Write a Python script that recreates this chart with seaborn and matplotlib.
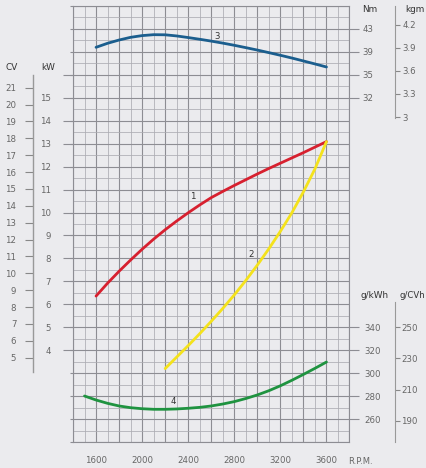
import numpy as np
import matplotlib
matplotlib.use('Agg')
import matplotlib.pyplot as plt
from matplotlib.ticker import MultipleLocator, FuncFormatter
import seaborn as sns

# curve 1 - power (kW)
rpm_power = [1600, 1700, 1800, 1900, 2000, 2100, 2200, 2300, 2400, 2500, 2600,
             2700, 2800, 2900, 3000, 3100, 3200, 3300, 3400, 3500, 3600]
power_kw = [6.36, 6.92, 7.44, 7.93, 8.40, 8.84, 9.25, 9.63, 9.99, 10.33, 10.65,
            10.92, 11.18, 11.43, 11.68, 11.92, 12.15, 12.38, 12.61, 12.85, 13.09]

# curve 2 - propeller power (kW)
rpm_prop = [2200, 2300, 2400, 2500, 2600, 2700, 2800, 2900, 3000, 3100, 3200,
            3300, 3400, 3500, 3600]
prop_kw = [3.2, 3.7, 4.2, 4.72, 5.26, 5.82, 6.41, 7.04, 7.71, 8.42, 9.18,
           9.99, 10.9, 11.9, 13.09]

# curve 3 - torque (Nm)
rpm_torque = [1600, 1700, 1800, 1900, 2000, 2100, 2200, 2300, 2400, 2500, 2600,
              2700, 2800, 2900, 3000, 3100, 3200, 3300, 3400, 3500, 3600]
torque_nm = [39.8, 40.5, 41.07, 41.54, 41.84, 42.0, 41.98, 41.78, 41.5, 41.2, 40.88,
             40.53, 40.15, 39.74, 39.32, 38.87, 38.41, 37.93, 37.42, 36.9, 36.37]

# curve 4 - specific consumption (g/kWh)
rpm_fuel = [1500, 1600, 1700, 1800, 1900, 2000, 2100, 2200, 2300, 2400, 2500,
            2600, 2700, 2800, 2900, 3000, 3100, 3200, 3300, 3400, 3500, 3600]
fuel_gkwh = [280.1, 276.6, 273.7, 271.4, 269.9, 269.0, 268.5, 268.5, 268.8, 269.4, 270.2,
             271.4, 273.1, 275.2, 277.9, 281.0, 284.7, 289.0, 293.8, 298.9, 304.2, 309.7]

kw_ticks = list(range(4, 17))
kw_labels = [str(v) for v in range(4, 16)] + ['']
cv_ticks = list(range(5, 22))
nm_ticks = [43, 39, 35, 31]
nm_labels = ['43', '39', '35', '32']
kgm_ticks = [3, 3.3, 3.6, 3.9, 4.2]
kgm_labels = ['3', '3.3', '3.6', '3.9', '4.2']
gkwh_ticks = [260, 280, 300, 320, 340]
gcvh_ticks = [190, 210, 230, 250]
rpm_labels = [1600, 2000, 2400, 2800, 3200, 3600]

BG = '#ebebee'
MAJ = '#8d8d93'
MIN = '#acacb2'
TXT = '#666666'
HEAD = '#333333'

sns.set_style('white')
plt.rcParams['font.family'] = ['DejaVu Sans']
plt.rcParams['font.size'] = 6.2

fig = plt.figure(figsize=(4.27, 4.68), dpi=100)
fig.patch.set_facecolor(BG)
L, R = 73 / 427, 349.5 / 427
B, T = 26 / 468, 462 / 468
ax = fig.add_axes([L, B, R - L, T - B])
ax.set_facecolor(BG)
ax.set_xlim(1400, 3800)
ax.set_ylim(0, 19)
ax.set_axisbelow(True)

ax.xaxis.set_major_locator(MultipleLocator(200))
ax.xaxis.set_minor_locator(MultipleLocator(100))
ax.yaxis.set_major_locator(MultipleLocator(1))
ax.yaxis.set_minor_locator(MultipleLocator(0.5))
ax.grid(which='major', color=MAJ, lw=0.8)
ax.grid(which='minor', color=MIN, lw=0.55)
for s in ax.spines.values():
    s.set_color(MAJ)
    s.set_linewidth(0.8)

ax.xaxis.set_major_formatter(FuncFormatter(
    lambda v, p: f'{int(v)}' if int(v) in rpm_labels else ''))
ax.tick_params(axis='x', which='major', direction='out', length=3.6, width=0.8,
               color=MAJ, pad=6.5, labelcolor=TXT, labelsize=6.2)
ax.tick_params(axis='both', which='minor', length=0)
ax.tick_params(axis='y', which='major', left=True, right=True, direction='out',
               length=2.2, width=0.8, color=MAJ, labelleft=False)

sns.lineplot(x=rpm_power, y=power_kw, ax=ax, color='#d7202f', lw=2.0)
sns.lineplot(x=rpm_prop, y=prop_kw, ax=ax, color='#f4e21c', lw=2.0)
ax.text(2442, 10.72, '1', fontsize=6.2, color='#333333', ha='center', va='center')
ax.text(2945, 8.15, '2', fontsize=6.2, color='#333333', ha='center', va='center')

# kW scale (long ticks on the left)
sec_kw = ax.secondary_yaxis('left')
sec_kw.set_yticks(kw_ticks, labels=kw_labels)
sec_kw.tick_params(length=7.2, width=0.8, color=MAJ, pad=8.5, labelcolor=TXT,
                   labelsize=6.2)
sec_kw.spines['left'].set_visible(False)

# CV scale
sec_cv = ax.secondary_yaxis(-40 / 276.5, functions=(lambda k: k * 1.36,
                                                   lambda c: c / 1.36))
sec_cv.set_yticks(cv_ticks)
sec_cv.tick_params(length=5.5, width=0.8, color='#888888', pad=6.5,
                   labelcolor=TXT, labelsize=6.2)
sec_cv.spines['left'].set_color('#999999')
sec_cv.spines['left'].set_linewidth(1.0)
sec_cv.spines['left'].set_bounds(3.04 * 1.36, 16 * 1.36)

# torque (Nm) twin
axT = ax.twinx()
axT.set_ylim(-29, 47)
axT.grid(False)
for s in axT.spines.values():
    s.set_visible(False)
axT.set_yticks(nm_ticks, labels=nm_labels)
axT.tick_params(axis='y', length=7.5, width=0.8, color=MAJ, pad=2,
                labelcolor=TXT, labelsize=6.2)
sns.lineplot(x=rpm_torque, y=torque_nm, ax=axT, color='#1b5e8e', lw=2.0)
axT.text(2650, 41.77, '3', fontsize=6.2, color='#333333', ha='center', va='center')
axT.set_ylabel('')


def nm2kgm(n):
    return 3 + (np.asarray(n) - 27.65) * 0.0748


def kgm2nm(k):
    return 27.65 + (np.asarray(k) - 3) / 0.0748


sec_kgm = axT.secondary_yaxis(322 / 276.5, functions=(nm2kgm, kgm2nm))
sec_kgm.set_yticks(kgm_ticks, labels=kgm_labels)
sec_kgm.tick_params(length=3.6, width=0.8, color='#888888', pad=1.5,
                    labelcolor=TXT, labelsize=6.2)
sec_kgm.spines['right'].set_color('#999999')
sec_kgm.spines['right'].set_bounds(2.99, 4.45)

# consumption (g/kWh) twin
axG = ax.twinx()
axG.set_ylim(240, 620)
axG.grid(False)
for s in axG.spines.values():
    s.set_visible(False)
axG.set_yticks(gkwh_ticks)
axG.tick_params(axis='y', length=7.5, width=0.8, color=MAJ, pad=3,
                labelcolor=TXT, labelsize=6.2)
sns.lineplot(x=rpm_fuel, y=fuel_gkwh, ax=axG, color='#1f9340', lw=2.0)
axG.text(2268, 274.9, '4', fontsize=6.2, color='#333333', ha='center', va='center')
axG.set_ylabel('')

sec_gcv = axG.secondary_yaxis(322 / 276.5, functions=(lambda g: g / 1.36,
                                                     lambda c: c * 1.36))
sec_gcv.set_yticks(gcvh_ticks)
sec_gcv.tick_params(length=3.6, width=0.8, color='#888888', pad=1,
                    labelcolor=TXT, labelsize=6.2)
sec_gcv.spines['right'].set_color('#999999')
sec_gcv.spines['right'].set_bounds(176.5, 266.2)

# headers
def head(x, y, s, ha='center', size=6.4):
    fig.text(x / 427, 1 - y / 468, s, ha=ha, va='center', fontsize=size,
             color=HEAD)


head(12, 68, 'CV')
head(48, 68, 'kW')
head(370, 10, 'Nm')
head(415, 10, 'kgm')
head(375, 296, 'g/kWh')
head(425, 296, 'g/CVh', ha='right', size=6.1)
fig.text(348 / 427, 1 - 461 / 468, 'R.P.M.', ha='left', va='center',
         fontsize=6.0, color=TXT)

fig.savefig('out.png', dpi=100, facecolor=BG)
